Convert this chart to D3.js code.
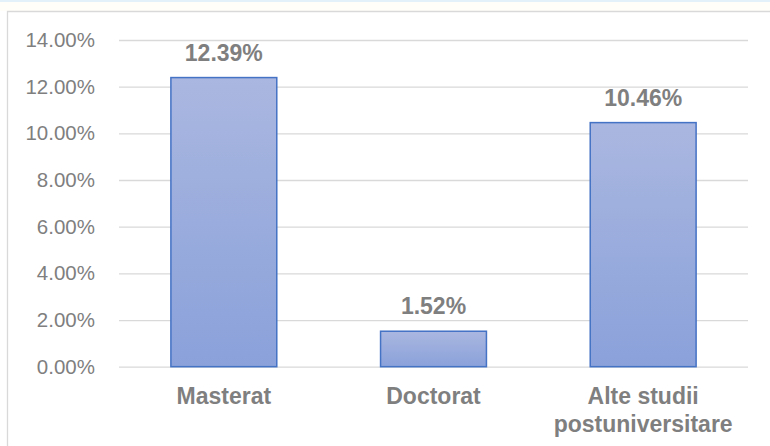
<!DOCTYPE html>
<html>
<head>
<meta charset="utf-8">
<script src="https://cdn.jsdelivr.net/npm/d3@7"></script>
<style>
  html, body { margin: 0; padding: 0; background: #ffffff; }
  svg { display: block; }
</style>
</head>
<body>
<div id="chart"></div>
<script>
// Share of graduates by postgraduate study type
const categories = ["Masterat", "Doctorat", "Alte studii postuniversitare"];
const categoryLines = [["Masterat"], ["Doctorat"], ["Alte studii", "postuniversitare"]];
const values = [12.39, 1.52, 10.46];
const tickValues = [0, 2, 4, 6, 8, 10, 12, 14];

const W = 770, H = 446;
const margin = { left: 119, right: 22, top: 40, bottom: 79 };
const plotW = W - margin.left - margin.right;
const y0 = 366.7, yTop = 40;

const svg = d3.select("#chart").append("svg")
  .attr("width", W).attr("height", H)
  .style("font-family", "'Liberation Sans', Arial, sans-serif");

// page strip above the chart frame
svg.append("rect").attr("x", 0).attr("y", 0).attr("width", W).attr("height", 11).attr("fill", "#fffef9");
svg.append("rect").attr("x", 0).attr("y", 0).attr("width", W).attr("height", 2).attr("fill", "#e3f1fb");

// chart frame
svg.append("path")
  .attr("d", `M7.5,${H} L7.5,11.5 L${W},11.5`)
  .attr("fill", "none").attr("stroke", "#d9d9d9").attr("stroke-width", 1.3);

const x = d3.scaleBand().domain(categories).range([margin.left, margin.left + plotW]).padding(0);
const y = d3.scaleLinear().domain([0, 14]).range([y0, yTop]);

const defs = svg.append("defs");
const grad = defs.append("linearGradient").attr("id", "barFill")
  .attr("x1", 0).attr("y1", 0).attr("x2", 0).attr("y2", 1);
grad.append("stop").attr("offset", "0%").attr("stop-color", "#aab7e0");
grad.append("stop").attr("offset", "100%").attr("stop-color", "#8aa1da");

// gridlines + tick labels
const yAxis = d3.axisLeft(y).tickValues(tickValues)
  .tickSize(-plotW).tickPadding(24)
  .tickFormat(d => d.toFixed(2) + "%");
const gy = svg.append("g").attr("transform", `translate(${margin.left},0)`).call(yAxis);
gy.select(".domain").remove();
gy.selectAll(".tick line").attr("stroke", "#d9d9d9").attr("stroke-width", 1.3);
gy.selectAll(".tick text")
  .attr("fill", "#7f7f7f").style("font-size", "20.5px");

// bars
const barW = x.bandwidth() * 0.505;
svg.append("g").selectAll("rect").data(values).join("rect")
  .attr("x", (d, i) => x(categories[i]) + (x.bandwidth() - barW) / 2)
  .attr("y", d => y(d))
  .attr("width", barW)
  .attr("height", d => y(0) - y(d))
  .attr("fill", "url(#barFill)")
  .attr("stroke", "#4472c4").attr("stroke-width", 1.5);

// value labels
svg.append("g").selectAll("text").data(values).join("text")
  .attr("x", (d, i) => x(categories[i]) + x.bandwidth() / 2)
  .attr("y", d => y(d) - 17)
  .attr("text-anchor", "middle")
  .attr("fill", "#7f7f7f")
  .style("font-size", "23px").style("font-weight", "bold")
  .text(d => d.toFixed(2) + "%");

// category labels
const cat = svg.append("g").selectAll("text").data(categoryLines).join("text")
  .attr("x", (d, i) => x(categories[i]) + x.bandwidth() / 2)
  .attr("y", 404)
  .attr("text-anchor", "middle")
  .attr("fill", "#7f7f7f")
  .style("font-size", "23px").style("font-weight", "bold");
cat.selectAll("tspan").data(d => d).join("tspan")
  .attr("x", function () { return this.parentNode.getAttribute("x"); })
  .attr("dy", (d, i) => i === 0 ? 0 : 27.5)
  .text(d => d);
</script>
</body>
</html>
